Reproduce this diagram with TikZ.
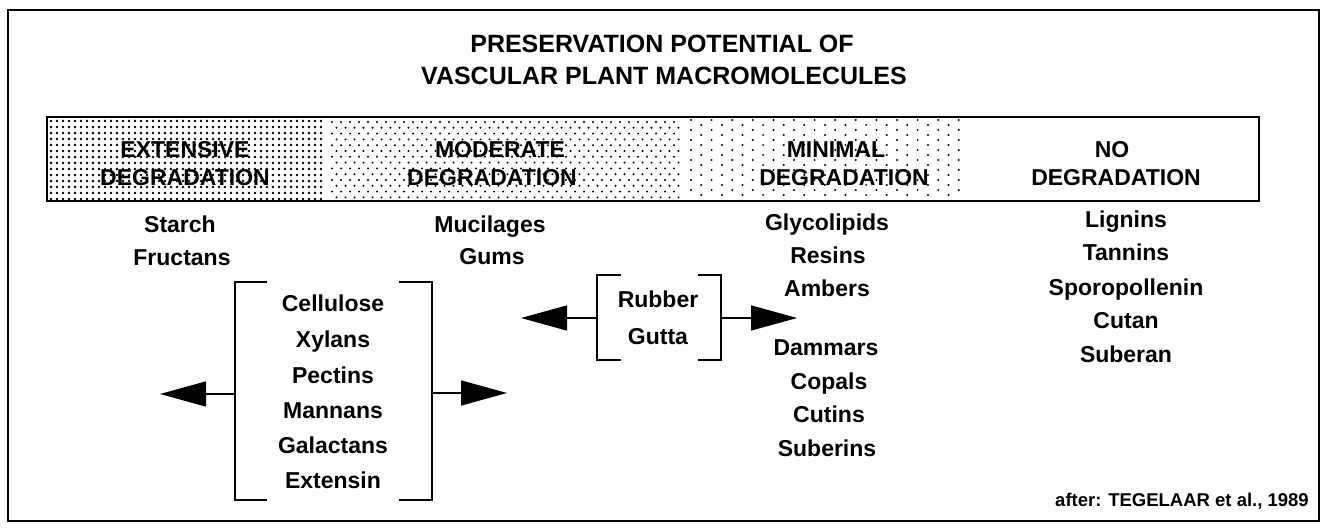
\documentclass[tikz,border=0pt]{standalone}
\usepackage{fontspec}
\setmainfont{Liberation Sans}
\usetikzlibrary{arrows.meta}
\begin{document}
\begin{tikzpicture}[x=1pt,y=-1pt,
  ttl/.style={font=\fontsize{25}{28}\selectfont\bfseries, inner sep=0},
  band/.style={font=\fontsize{23}{26}\selectfont\bfseries, inner sep=0},
  item/.style={font=\fontsize{23}{26}\selectfont\bfseries, inner sep=0, anchor=base, yshift=-8pt},
  cite/.style={font=\fontsize{18.5}{20}\selectfont\bfseries, inner sep=0},
  brk/.style={line width=1.4pt},
  arr/.style={line width=1.4pt, -{Triangle[length=46pt,width=25pt]}}]
\useasboundingbox (0,0) rectangle (1325,529);
\fill[white] (0,0) rectangle (1325,529);
% outer frame
\draw[line width=1.8pt] (8,10) rectangle (1319,521);
% title
\node[ttl] (t1) at (662,44) {PRESERVATION POTENTIAL OF};
\node[ttl] (t2) at (664,76) {VASCULAR PLANT MACROMOLECULES};
% dot fields
\foreach \j in {0,...,13} {\foreach \i in {0,...,45} {\fill ({51+6*\i},{121+6*\j}) circle (1.35);}}
\foreach \j in {0,...,13} {\foreach \i in {0,...,38} {\fill ({332+9*\i+4.5*mod(\j,2)},{122+5.8*\j}) circle (1.1);}}
\foreach \i in {0,...,26} {\foreach \j in {0,...,7} {\fill ({691+10.3*\i},{120+10*\j+5*mod(\i,2)}) circle (1.1);}}
% band outline
\draw[line width=1.6pt] (47,117) rectangle (1259,201);
% band labels
\node[band] (e1) at (185,150) {EXTENSIVE};
\node[band] (e2) at (185,178) {DEGRADATION};
\node[band] (m1) at (500,150) {MODERATE};
\node[band] (m2) at (492,178) {DEGRADATION};
\node[band] (n1) at (836,150) {MINIMAL};
\node[band] (n2) at (844,178) {DEGRADATION};
\node[band] (o1) at (1112,150) {NO};
\node[band] (o2) at (1116,178) {DEGRADATION};
% extensive items
\node[item] (starch) at (180,225) {Starch};
\node[item] (fructans) at (182,258) {Fructans};
% moderate items
\node[item] (mucil) at (490,225) {Mucilages};
\node[item] (gums) at (492,257) {Gums};
% minimal items
\node[item] (glyco) at (827,223) {Glycolipids};
\node[item] (resins) at (828,256) {Resins};
\node[item] (ambers) at (827,289) {Ambers};
\node[item] (dammars) at (826,347) {Dammars};
\node[item] (copals) at (829,381) {Copals};
\node[item] (cutins) at (829,414) {Cutins};
\node[item] (suberins) at (827,448) {Suberins};
% no degradation items
\node[item] (lignins) at (1126,220) {Lignins};
\node[item] (tannins) at (1126,253) {Tannins};
\node[item] (sporo) at (1126,287) {Sporopollenin};
\node[item] (cutan) at (1126,320) {Cutan};
\node[item] (suberan) at (1126,354) {Suberan};
% bracketed group
\node[item] (cell) at (333,304) {Cellulose};
\node[item] (xyl) at (333,339) {Xylans};
\node[item] (pect) at (333,375) {Pectins};
\node[item] (mann) at (333,410) {Mannans};
\node[item] (gal) at (333,445) {Galactans};
\node[item] (ext) at (333,480) {Extensin};
\draw[brk] (267,282) -- (235,282) -- (235,500) -- (267,500);
\draw[brk] (399,282) -- (432,282) -- (432,500) -- (399,500);
\coordinate (bl) at (235,394);
\coordinate (br) at (432,393);
\coordinate (bltip) at (160,394);
\coordinate (brtip) at (507,393);
\draw[arr] (bl) -- (bltip);
\draw[arr] (br) -- (brtip);
% rubber group
\node[item] (rubber) at (658,300) {Rubber};
\node[item] (gutta) at (658,336) {Gutta};
\draw[brk] (621,275) -- (597,275) -- (597,360) -- (621,360);
\draw[brk] (698,275) -- (721,275) -- (721,360) -- (698,360);
\coordinate (rl) at (597,318);
\coordinate (rr) at (721,318);
\coordinate (rltip) at (521,318);
\coordinate (rrtip) at (797,318);
\draw[arr] (rl) -- (rltip);
\draw[arr] (rr) -- (rrtip);
% citation
\node[cite, anchor=east] (cit) at (1309,501) {after: TEGELAAR et al., 1989};
\end{tikzpicture}
\end{document}
